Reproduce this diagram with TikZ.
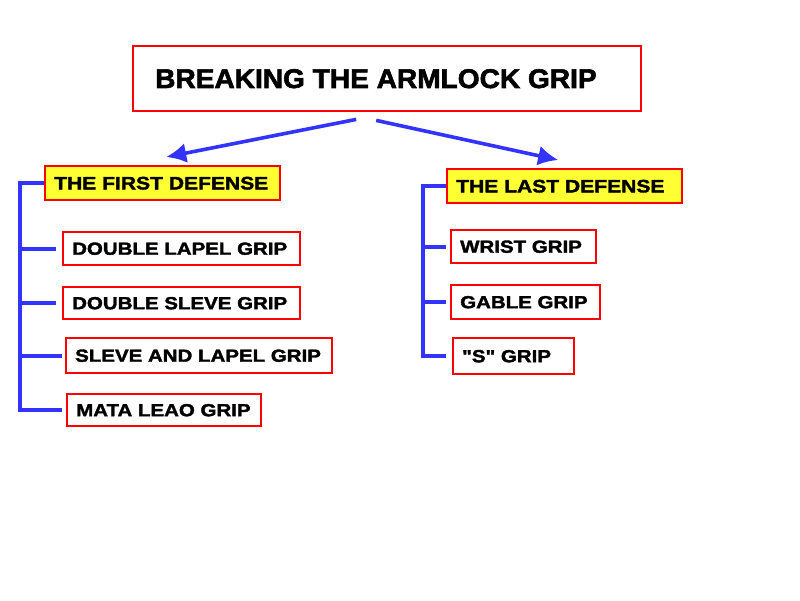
\documentclass[tikz,border=0pt]{standalone}
\usepackage{fontspec}
\usetikzlibrary{arrows.meta}
\newfontfamily\titlefont{Liberation Sans}[FakeStretch=1.04,BoldFeatures={FakeBold=2.2}]
\newfontfamily\gripfont{Liberation Sans}[FakeStretch=1.17,BoldFeatures={FakeBold=2}]
\definecolor{gripred}{HTML}{FF0000}
\definecolor{gripblue}{HTML}{3333FF}
\definecolor{gripyellow}{HTML}{FFFF33}
\begin{document}
\begin{tikzpicture}[x=1pt,y=-1pt,line join=miter,
  box/.style={draw=gripred,line width=2.4pt,anchor=north west,inner xsep=9pt,inner ysep=0pt,
    font=\gripfont\bfseries\fontsize{17.5}{20}\selectfont},
  headbox/.style={box,fill=gripyellow,font=\gripfont\bfseries\fontsize{18}{20}\selectfont},
  titlebox/.style={box,inner xsep=22pt,font=\titlefont\bfseries\fontsize{27}{30}\selectfont},
  arrow/.style={draw=gripblue,line width=3.6pt,-{Latex[length=20pt,width=20pt]}},
  bracket/.style={draw=gripblue,line width=3.6pt}]
  \useasboundingbox (0,0) rectangle (800,600);
  % title and the two headings
  \node[titlebox,minimum height=65pt] (title) at (132,45) {\makebox[464pt][l]{BREAKING THE ARMLOCK GRIP}};
  \node[headbox,minimum height=34pt] (first) at (44,165) {\makebox[217pt][l]{THE FIRST DEFENSE}};
  \node[headbox,minimum height=34pt] (last) at (446,168) {\makebox[217pt][l]{THE LAST DEFENSE}};
  % the grips
  \foreach \name/\x/\y/\w/\h/\txt in {dlapel/62/231/219/33/DOUBLE LAPEL GRIP,
      dsleve/62/286/219/32/DOUBLE SLEVE GRIP,
      slapel/65/337/248/35/SLEVE AND LAPEL GRIP,
      mata/66/393/176/32/MATA LEAO GRIP,
      wrist/450/229/127/33/WRIST GRIP,
      gable/450/284/131/34/GABLE GRIP,
      sgrip/452/337/103/36/"S" GRIP}
    \node[box,minimum height=\h pt] (\name) at (\x,\y) {\makebox[\w pt][l]{\txt}};
  % arrows
  \draw[arrow] ([xshift=-31pt,yshift=-7pt]title.south) -- ([xshift=3.5pt,yshift=8pt]first.north);
  \draw[arrow] ([xshift=-11pt,yshift=-8pt]title.south) -- ([xshift=-6.5pt,yshift=8pt]last.north);
  % brackets
  \coordinate (lspine) at ([xshift=-24pt]first.west);
  \coordinate (rspine) at ([xshift=-23pt]last.west);
  \draw[bracket] (first.west) -- (lspine) |- ([xshift=-4pt]mata.west);
  \foreach \n/\g in {dlapel/6,dsleve/6,slapel/3}
    \draw[bracket] (lspine |- \n.west) -- ([xshift=-\g pt]\n.west);
  \draw[bracket] (last.west) -- (rspine) |- ([xshift=-6pt]sgrip.west);
  \foreach \n in {wrist,gable}
    \draw[bracket] (rspine |- \n.west) -- ([xshift=-4pt]\n.west);
\end{tikzpicture}
\end{document}
